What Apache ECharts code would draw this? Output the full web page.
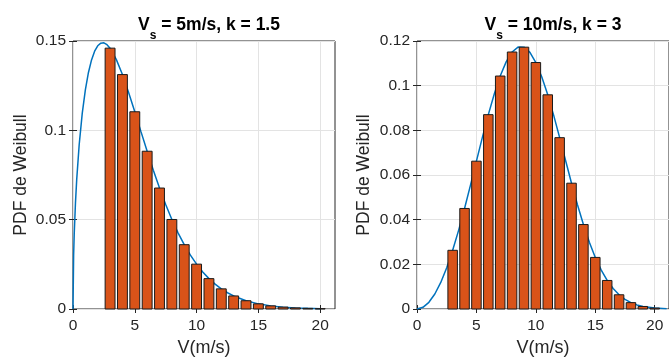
<!DOCTYPE html>
<html><head><meta charset="utf-8">
<script src="https://cdn.jsdelivr.net/npm/echarts@6/dist/echarts.min.js"></script>
<style>html,body{margin:0;padding:0;background:#fff}#c{width:669px;height:362px}</style>
</head><body><div id="c"></div>
<script>
// ---- data ----
const xTicks = [0, 5, 10, 15, 20];
const leftYTicks = [0, 0.05, 0.1, 0.15];
const rightYTicks = [0, 0.02, 0.04, 0.06, 0.08, 0.1, 0.12];

const barX = [3,4,5,6,7,8,9,10,11,12,13,14,15,16,17,18,19,20];
const leftBarY = [0.1460,0.1312,0.1104,0.0883,0.0677,0.0501,0.0360,0.0251,0.0170,0.01128,0.00731,0.00463,0.00288,0.00175,0.00105,0.000615,0.000354,0.000201];
const rightBarY = [0.02628,0.04502,0.06619,0.08702,0.10431,0.11507,0.11723,0.11036,0.09590,0.07672,0.05633,0.03782,0.02310,0.01278,0.00637,0.00285,0.00114,0.000403];

const leftCurveX = [0,0.05,0.1,0.2,0.3,0.5,0.75,1,1.25,1.5,1.75,2,2.25,2.5,2.75,3,3.5,4,4.5,5,5.5,6,6.5,7,7.5,8,8.5,9,9.5,10,10.5,11,11.5,12,12.5,13,14,15,16,17,18,19,20];
const leftCurveY = [0,0.02997,0.04231,0.05952,0.07241,0.09192,0.10964,0.12268,0.13238,0.13943,0.14429,0.14733,0.14880,0.14896,0.14796,0.1460,0.13973,0.1312,0.12119,0.1104,0.09927,0.0883,0.07768,0.0677,0.05853,0.0501,0.04264,0.0360,0.03014,0.0251,0.02073,0.0170,0.0139,0.01128,0.00911,0.00731,0.00463,0.00288,0.00175,0.00105,0.000615,0.000354,0.000201];

const rightCurveX = [0,0.5,1,1.5,2,2.5,3,3.5,4,4.5,5,5.5,6,6.5,7,7.5,8,8.5,9,9.5,10,10.5,11,11.5,12,12.5,13,13.5,14,14.5,15,15.5,16,16.5,17,17.5,18,18.5,19,20,21];
const rightCurveY = [0,0.00075,0.002997,0.00673,0.01190,0.01846,0.02628,0.03521,0.04502,0.05546,0.06619,0.07685,0.08702,0.09629,0.10431,0.11067,0.11507,0.11729,0.11723,0.11488,0.11036,0.10392,0.09590,0.08670,0.07672,0.06648,0.05633,0.04670,0.03782,0.02992,0.02310,0.01739,0.01278,0.00915,0.00637,0.00432,0.00285,0.00183,0.00114,0.000403,0.000126];

const titles = [["s", " = 5m/s, k = 1.5"], ["s", " = 10m/s, k = 3"]];
const xName = "V(m/s)";
const yName = "PDF de Weibull";

// ---- chart ----
const AX = '#262626';
const FONT = 'Liberation Sans, Arial, sans-serif';
const grids = [
  {left: 73, top: 41, width: 262, height: 271},
  {left: 417, top: 41, width: 262, height: 271}
];
const xMax = 21.2;
const yMaxes = [0.15, 0.12];
const yIntervals = [0.05, 0.02];
const yNameGaps = [43, 44];

function zip(a, b) { return a.map((v, i) => [v, b[i]]); }

const xAxes = [], yAxes = [], series = [];
grids.forEach((g, i) => {
  Object.assign(g, {show: true, borderColor: AX, borderWidth: 1, backgroundColor: '#fff'});
  xAxes.push({
    gridIndex: i, type: 'value', min: 0, max: xMax, interval: 5,
    name: xName, nameLocation: 'middle', nameGap: 30,
    nameTextStyle: {color: AX, fontSize: 18, fontFamily: FONT},
    axisLine: {show: false},
    axisTick: {show: true, inside: true, length: 4, lineStyle: {color: AX}, customValues: xTicks},
    axisLabel: {color: AX, fontSize: 15.5, fontFamily: FONT, margin: 9, customValues: xTicks},
    splitLine: {show: true, lineStyle: {color: '#e3e3e3', width: 1}}
  });
  xAxes.push({
    gridIndex: i, type: 'value', min: 0, max: xMax, interval: 5, position: 'top',
    axisLine: {show: false},
    axisTick: {show: true, inside: true, length: 4, lineStyle: {color: AX}, customValues: xTicks},
    axisLabel: {show: false}, splitLine: {show: false}
  });
  yAxes.push({
    gridIndex: i, type: 'value', min: 0, max: yMaxes[i], interval: yIntervals[i],
    name: yName, nameLocation: 'middle', nameGap: yNameGaps[i],
    nameTextStyle: {color: AX, fontSize: 17.5, fontFamily: FONT},
    axisLine: {show: false},
    axisTick: {show: true, inside: true, length: 4, lineStyle: {color: AX}},
    axisLabel: {color: AX, fontSize: 15.5, fontFamily: FONT, margin: 7},
    splitLine: {show: true, lineStyle: {color: '#e3e3e3', width: 1}}
  });
  yAxes.push({
    gridIndex: i, type: 'value', min: 0, max: yMaxes[i], interval: yIntervals[i], position: 'right',
    axisLine: {show: false},
    axisTick: {show: true, inside: true, length: 4, lineStyle: {color: AX}},
    axisLabel: {show: false}, splitLine: {show: false}
  });
  const barY = i === 0 ? leftBarY : rightBarY;
  series.push({
    type: 'custom', xAxisIndex: i * 2, yAxisIndex: i * 2, z: 2,
    data: zip(barX, barY),
    renderItem: function (params, api) {
      const x = api.value(0), y = api.value(1);
      const p0 = api.coord([x - 0.4, y]);
      const p1 = api.coord([x + 0.4, 0]);
      return {
        type: 'rect',
        shape: {x: p0[0], y: p0[1], width: p1[0] - p0[0], height: p1[1] - p0[1]},
        style: {fill: '#D95319', stroke: '#1a1a1a', lineWidth: 1}
      };
    }
  });
  series.push({
    type: 'line', xAxisIndex: i * 2, yAxisIndex: i * 2, z: 1,
    data: i === 0 ? zip(leftCurveX, leftCurveY) : zip(rightCurveX, rightCurveY),
    showSymbol: false, smooth: false,
    lineStyle: {color: '#0072BD', width: 1.5}
  });
});

const titleComps = grids.map((g, i) => ({
  text: '{v|V}{s|' + titles[i][0] + '}{v|' + titles[i][1] + '}',
  left: g.left + g.width / 2, top: 3, textAlign: 'center',
  textStyle: {
    rich: {
      v: {fontSize: 17.5, fontWeight: 'bold', color: '#000', fontFamily: FONT, lineHeight: 34, verticalAlign: 'middle'},
      s: {fontSize: 12, fontWeight: 'bold', color: '#000', fontFamily: FONT, lineHeight: 12, verticalAlign: 'bottom'}
    }
  }
}));

const chart = echarts.init(document.getElementById('c'), null, {renderer: 'canvas'});
chart.setOption({
  backgroundColor: '#fff',
  animation: false,
  title: titleComps,
  grid: grids,
  xAxis: xAxes,
  yAxis: yAxes,
  series: series
});
</script>
</body></html>
